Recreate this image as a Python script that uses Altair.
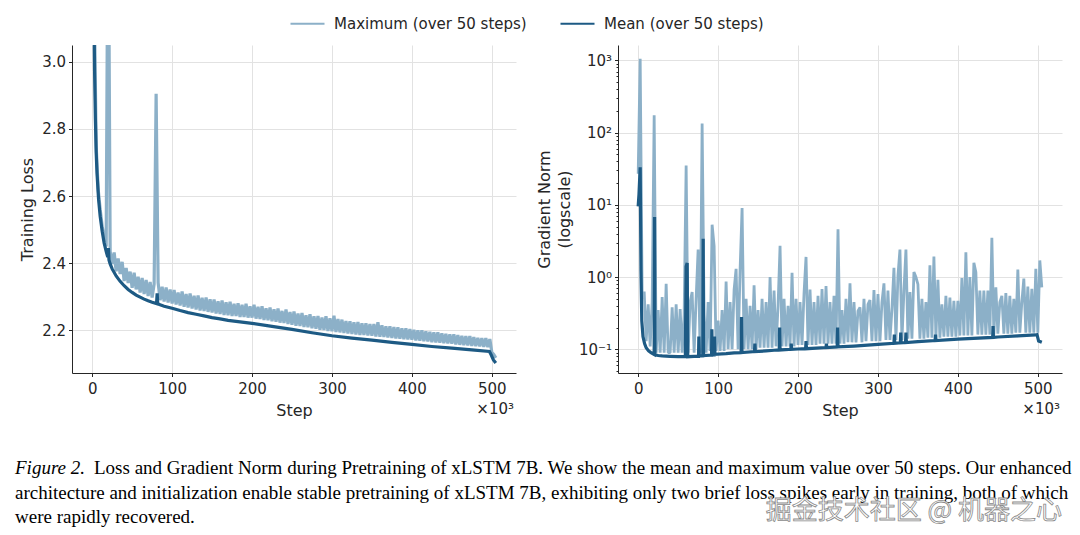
import altair as alt
import pandas as pd

SERIES = ["Maximum (over 50 steps)", "Mean (over 50 steps)"]
COLORS = ["#8cb0c8", "#1d5a84"]

STEP_K = [
    0, 2.5, 5, 7.5, 10, 12.5, 15, 17.5,
    20, 22.5, 25, 27.5, 30, 32.5, 35, 37.5,
    40, 42.5, 45, 47.5, 50, 52.5, 55, 57.5,
    60, 62.5, 65, 67.5, 70, 72.5, 75, 77.5,
    80, 82.5, 85, 87.5, 90, 92.5, 95, 97.5,
    100, 102.5, 105, 107.5, 110, 112.5, 115, 117.5,
    120, 122.5, 125, 127.5, 130, 132.5, 135, 137.5,
    140, 142.5, 145, 147.5, 150, 152.5, 155, 157.5,
    160, 162.5, 165, 167.5, 170, 172.5, 175, 177.5,
    180, 182.5, 185, 187.5, 190, 192.5, 195, 197.5,
    200, 202.5, 205, 207.5, 210, 212.5, 215, 217.5,
    220, 222.5, 225, 227.5, 230, 232.5, 235, 237.5,
    240, 242.5, 245, 247.5, 250, 252.5, 255, 257.5,
    260, 262.5, 265, 267.5, 270, 272.5, 275, 277.5,
    280, 282.5, 285, 287.5, 290, 292.5, 295, 297.5,
    300, 302.5, 305, 307.5, 310, 312.5, 315, 317.5,
    320, 322.5, 325, 327.5, 330, 332.5, 335, 337.5,
    340, 342.5, 345, 347.5, 350, 352.5, 355, 357.5,
    360, 362.5, 365, 367.5, 370, 372.5, 375, 377.5,
    380, 382.5, 385, 387.5, 390, 392.5, 395, 397.5,
    400, 402.5, 405, 407.5, 410, 412.5, 415, 417.5,
    420, 422.5, 425, 427.5, 430, 432.5, 435, 437.5,
    440, 442.5, 445, 447.5, 450, 452.5, 455, 457.5,
    460, 462.5, 465, 467.5, 470, 472.5, 475, 477.5,
    480, 482.5, 485, 487.5, 490, 492.5, 495, 497.5,
    500, 502.5, 505,
]

LOSS_MAX = [
    4.5, 3.2, 2.75, 2.62, 2.56, 2.51, 2.475, 2.45,
    3.6, 2.435, 2.398, 2.432, 2.376, 2.414, 2.368, 2.404,
    2.347, 2.386, 2.341, 2.375, 2.327, 2.372, 2.322, 2.36,
    2.313, 2.356, 2.308, 2.35, 2.302, 2.344, 2.298, 2.338,
    2.905, 2.342, 2.29, 2.33, 2.286, 2.328, 2.283, 2.322,
    2.28, 2.32, 2.277, 2.313, 2.274, 2.316, 2.27, 2.308,
    2.268, 2.31, 2.265, 2.303, 2.262, 2.304, 2.259, 2.297,
    2.258, 2.298, 2.255, 2.293, 2.253, 2.292, 2.25, 2.287,
    2.249, 2.289, 2.246, 2.284, 2.245, 2.285, 2.243, 2.279,
    2.243, 2.281, 2.24, 2.276, 2.24, 2.279, 2.238, 2.272,
    2.238, 2.276, 2.235, 2.27, 2.234, 2.272, 2.231, 2.266,
    2.23, 2.268, 2.227, 2.263, 2.226, 2.265, 2.223, 2.258,
    2.222, 2.262, 2.219, 2.255, 2.217, 2.256, 2.214, 2.25,
    2.213, 2.252, 2.21, 2.245, 2.209, 2.248, 2.206, 2.242,
    2.205, 2.243, 2.202, 2.238, 2.201, 2.242, 2.198, 2.236,
    2.197, 2.244, 2.195, 2.234, 2.194, 2.232, 2.192, 2.228,
    2.191, 2.227, 2.189, 2.224, 2.188, 2.225, 2.186, 2.221,
    2.186, 2.221, 2.185, 2.219, 2.184, 2.219, 2.182, 2.224,
    2.181, 2.215, 2.18, 2.212, 2.179, 2.212, 2.177, 2.21,
    2.176, 2.209, 2.175, 2.206, 2.174, 2.206, 2.173, 2.204,
    2.172, 2.202, 2.17, 2.2, 2.169, 2.2, 2.168, 2.197,
    2.167, 2.196, 2.165, 2.194, 2.164, 2.194, 2.163, 2.191,
    2.162, 2.19, 2.161, 2.188, 2.16, 2.188, 2.158, 2.186,
    2.157, 2.184, 2.156, 2.183, 2.155, 2.183, 2.154, 2.18,
    2.153, 2.178, 2.152, 2.177, 2.151, 2.177, 2.15, 2.174,
    2.135, 2.128, 2.118,
]

GRAD_MAX = [
    27, 1050, 0.5, 0.63, 0.13, 0.42, 0.11, 0.45,
    173, 0.09, 0.35, 0.09, 0.53, 0.09, 0.81, 0.09,
    0.09, 0.38, 0.09, 0.42, 0.09, 0.36, 0.09, 0.3,
    35, 0.09, 0.45, 0.62, 0.09, 0.5, 2.4, 0.09,
    133, 0.3, 0.09, 0.45, 0.095, 5.3, 2.7, 0.095,
    0.25, 0.095, 0.35, 0.095, 0.87, 0.1, 0.45, 0.1,
    0.67, 1.3, 0.1, 1.25, 9.0, 0.1, 0.5, 0.1,
    0.4, 0.1, 0.77, 0.1, 0.35, 0.105, 0.5, 0.105,
    0.45, 0.105, 1.0, 0.105, 0.65, 0.11, 0.4, 2.7,
    0.11, 0.5, 0.11, 0.4, 0.11, 1.15, 0.11, 0.5,
    0.115, 0.45, 0.115, 0.6, 1.9, 0.115, 0.67, 0.115,
    0.45, 0.115, 0.55, 0.12, 0.68, 0.12, 0.75, 0.12,
    0.45, 0.12, 0.55, 0.12, 4.6, 0.12, 0.35, 0.12,
    0.5, 0.125, 0.82, 0.125, 0.45, 0.125, 0.34, 0.38,
    0.125, 0.5, 0.13, 0.42, 0.48, 0.13, 0.66, 0.13,
    0.58, 0.13, 0.45, 0.82, 0.135, 0.65, 0.135, 0.36,
    1.34, 0.135, 1.05, 2.4, 0.135, 0.65, 2.4, 0.14,
    0.62, 0.14, 1.17, 1.0, 0.79, 0.14, 0.5, 0.14,
    0.45, 0.145, 1.45, 0.145, 1.93, 0.145, 0.92, 0.145,
    0.42, 0.15, 0.55, 0.15, 0.52, 0.15, 0.47, 0.15,
    0.47, 0.155, 0.97, 0.155, 2.2, 0.155, 1.0, 0.155,
    1.57, 1.16, 0.16, 0.65, 0.16, 0.65, 0.16, 0.65,
    0.16, 3.5, 0.16, 0.72, 0.165, 0.45, 0.55, 0.165,
    0.6, 0.165, 0.55, 0.165, 0.5, 0.17, 1.27, 0.17,
    0.45, 0.95, 0.17, 0.74, 0.17, 0.69, 0.17, 1.3,
    0.17, 1.7, 0.72,
]

LOSS_MEAN_STEP = [
    0, 1, 2, 3, 4, 5, 6, 8, 10, 12.5, 15, 17.5, 19.5, 20.3, 21, 22.5,
    25, 30, 35, 40, 45, 50, 55, 60, 65, 70, 75, 80.5, 81.3, 82, 85, 90,
    100, 110, 120, 130, 140, 150, 160, 170, 180, 190, 200, 225, 250, 275,
    300, 325, 350, 375, 400, 425, 450, 475, 497, 499, 502, 505,
]
LOSS_MEAN = [
    4.6, 3.7, 3.2, 2.97, 2.83, 2.73, 2.67, 2.59, 2.54, 2.495, 2.46, 2.435, 2.418, 2.445, 2.41, 2.398,
    2.383, 2.362, 2.346, 2.333, 2.322, 2.313, 2.305, 2.299, 2.293, 2.288, 2.284, 2.28, 2.31, 2.279, 2.276, 2.272,
    2.266, 2.259, 2.253, 2.248, 2.243, 2.238, 2.234, 2.23, 2.227, 2.224, 2.221, 2.212, 2.203, 2.193,
    2.184, 2.177, 2.171, 2.164, 2.158, 2.152, 2.147, 2.142, 2.137, 2.128, 2.112, 2.103,
]

GRAD_MEAN_STEP = [
    0, 1, 2.5, 3.5, 4.5, 6, 8, 10, 13, 16, 20, 20.5, 21, 25, 30, 40, 50,
    59, 60, 61.3, 62, 70, 75.5, 75.9, 76.5, 80.8, 81.3, 81.8, 90, 91.8, 92.2, 92.7,
    95, 95.5, 96, 110, 120, 128.8, 129.3, 129.8, 145.5, 146, 146.5, 160, 170,
    176.5, 177, 177.5, 191, 191.5, 192, 200, 209.5, 210, 210.5, 235, 235.5, 236,
    249, 249.5, 250, 270, 300, 320, 320.5, 321, 328, 328.5, 329, 334.5, 335, 335.5,
    350, 371.5, 372, 372.5, 400, 443.5, 444, 444.5, 450, 475, 497, 499, 501, 505,
]
GRAD_MEAN = [
    9.5, 14, 33, 1.2, 0.25, 0.15, 0.12, 0.105, 0.095, 0.09, 0.085, 6.8, 0.084, 0.082, 0.081, 0.08, 0.079,
    0.079, 1.4, 1.57, 0.079, 0.08, 0.08, 0.15, 0.081, 0.081, 3.4, 0.082, 0.083, 0.083, 0.19, 0.084,
    0.084, 0.15, 0.085, 0.087, 0.089, 0.09, 0.28, 0.09, 0.093, 0.12, 0.093, 0.095, 0.097,
    0.098, 0.2, 0.098, 0.1, 0.12, 0.1, 0.101, 0.102, 0.13, 0.102, 0.106, 0.12, 0.106,
    0.108, 0.2, 0.108, 0.111, 0.117, 0.121, 0.16, 0.121, 0.123, 0.17, 0.123, 0.124, 0.17, 0.124,
    0.128, 0.132, 0.16, 0.132, 0.138, 0.146, 0.21, 0.146, 0.148, 0.153, 0.158, 0.16, 0.13, 0.125,
]

STEP_TICKS = [0, 100, 200, 300, 400, 500]
LOSS_TICKS = [2.2, 2.4, 2.6, 2.8, 3.0]
GRAD_TICKS = [0.1, 1, 10, 100, 1000]
GRAD_MINOR = [0.05, 0.06, 0.07, 0.08, 0.09, 0.2, 0.3, 0.4, 0.5, 0.6, 0.7, 0.8, 0.9,
              2, 3, 4, 5, 6, 7, 8, 9, 20, 30, 40, 50, 60, 70, 80, 90,
              200, 300, 400, 500, 600, 700, 800, 900]
OFFSET_LABEL = "×10³"

CAPTION_LEAD = "Figure 2."
CAPTION_LINES = [
    "Loss and Gradient Norm during Pretraining of xLSTM 7B. We show the mean and maximum value over 50 steps. Our enhanced",
    "architecture and initialization enable stable pretraining of xLSTM 7B, exhibiting only two brief loss spikes early in training, both of which",
    "were rapidly recovered.",
]
WATERMARK = "掘金技术社区 @ 机器之心"

W, H = 444, 328
INK = "#262626"

color = alt.Color(
    "series:N",
    scale=alt.Scale(domain=SERIES, range=COLORS),
    legend=alt.Legend(title=None, orient="none", legendX=217, legendY=-40, direction="horizontal",
                      symbolType="stroke", symbolSize=1156, symbolStrokeWidth=2.2,
                      labelFontSize=15, labelOffset=8, columnPadding=29, labelLimit=400,
                      labelColor=INK),
)

x_enc = alt.X("step:Q", scale=alt.Scale(domain=[-25.25, 530.25], nice=False, zero=False),
              axis=alt.Axis(values=STEP_TICKS, title="Step", format="d", labelFlush=False))


def frame(step, value, name):
    return pd.DataFrame({"step": step, "value": value, "series": name})


def offset_text():
    return alt.Chart(pd.DataFrame({"label": [OFFSET_LABEL]})).mark_text(
        align="right", baseline="middle", fontSize=15, color=INK
    ).encode(x=alt.value(W - 2), y=alt.value(H + 36), text="label:N")


# left panel: training loss
loss_y = alt.Y("value:Q", scale=alt.Scale(domain=[2.073, 3.05], nice=False, zero=False),
               axis=alt.Axis(values=LOSS_TICKS, format=".1f", title="Training Loss"))
loss_max = alt.Chart(frame(STEP_K, LOSS_MAX, SERIES[0])).mark_line(
    strokeWidth=3.2, strokeJoin="bevel", clip=True).encode(x=x_enc, y=loss_y, color=color)
loss_mean = alt.Chart(frame(LOSS_MEAN_STEP, LOSS_MEAN, SERIES[1])).mark_line(
    strokeWidth=3.2, clip=True).encode(x=x_enc, y=loss_y, color=color)
loss_chart = alt.layer(loss_max, loss_mean, offset_text()).properties(width=W, height=H)

# right panel: gradient norm on a log axis
grad_scale = alt.Scale(type="log", domain=[0.047, 1630], nice=False)
label_expr = ("datum.value >= 1000 ? '10³' : datum.value >= 100 ? '10²' : "
              "datum.value >= 10 ? '10¹' : datum.value >= 1 ? '10⁰' : '10⁻¹'")
grad_y = alt.Y("value:Q", scale=grad_scale,
               axis=alt.Axis(values=GRAD_TICKS, labelExpr=label_expr, orient="left",
                             title=["Gradient Norm", "(logscale)"], titleLineHeight=20))
grad_max = alt.Chart(frame(STEP_K, GRAD_MAX, SERIES[0])).mark_line(
    strokeWidth=2.8, strokeJoin="bevel", clip=True).encode(x=x_enc, y=grad_y, color=color)
grad_mean = alt.Chart(frame(GRAD_MEAN_STEP, GRAD_MEAN, SERIES[1])).mark_line(
    strokeWidth=3.2, clip=True).encode(
    x=x_enc, y=alt.Y("value:Q", scale=grad_scale, axis=None), color=color)
grad_minor = alt.Chart(frame(GRAD_MEAN_STEP, GRAD_MEAN, SERIES[1])).mark_line(
    strokeOpacity=0, clip=True).encode(
    x=x_enc,
    y=alt.Y("value:Q", scale=grad_scale,
            axis=alt.Axis(values=GRAD_MINOR, labels=False, grid=False, domain=False,
                          tickSize=2, orient="left", title="")))
grad_chart = alt.layer(grad_max, grad_mean, grad_minor, offset_text()).resolve_axis(
    y="independent").properties(width=W, height=H)

panels = alt.hconcat(loss_chart, grad_chart, spacing=20).resolve_scale(color="shared")

# caption under the figure; x=0 is the left panel's plot edge
SERIF = dict(align="left", baseline="alphabetic", font="Liberation Serif", fontSize=19, color="black")
caption_layers = [
    alt.Chart(pd.DataFrame({"t": [CAPTION_LEAD]})).mark_text(fontStyle="italic", **SERIF).encode(
        x=alt.value(-57), y=alt.value(35), text="t:N"),
    alt.Chart(pd.DataFrame({"t": [CAPTION_LINES[0]]})).mark_text(**SERIF).encode(
        x=alt.value(22), y=alt.value(35), text="t:N"),
    alt.Chart(pd.DataFrame({"t": [CAPTION_LINES[1]]})).mark_text(**SERIF).encode(
        x=alt.value(-57), y=alt.value(60), text="t:N"),
    alt.Chart(pd.DataFrame({"t": [CAPTION_LINES[2]]})).mark_text(**SERIF).encode(
        x=alt.value(-57), y=alt.value(84), text="t:N"),
    alt.Chart(pd.DataFrame({"t": [WATERMARK]})).mark_text(
        align="right", baseline="alphabetic", font="Noto Sans CJK SC", fontSize=26,
        color="#ffffff", stroke="#8a8a8a", strokeWidth=0.8).encode(
        x=alt.value(990), y=alt.value(80), text="t:N"),
]
caption = alt.layer(*caption_layers).properties(width=990, height=90)

chart = alt.vconcat(panels, caption, spacing=20).properties(
    padding={"left": 7, "top": -3, "right": 0, "bottom": 0},
    background="white",
).configure(font="DejaVu Sans").configure_view(strokeWidth=0).configure_axis(
    domainColor=INK, domainWidth=1, tickColor=INK, tickSize=3.5, tickWidth=1,
    labelFontSize=15, labelColor=INK, labelPadding=3, titleFontSize=16,
    titleFontWeight="normal", titleColor=INK, gridColor="#e2e2e2", gridWidth=1,
    titlePadding=6,
).configure_axisX(labelPadding=5)

chart.save("out.html", embed_options={"renderer": "svg", "actions": False})
